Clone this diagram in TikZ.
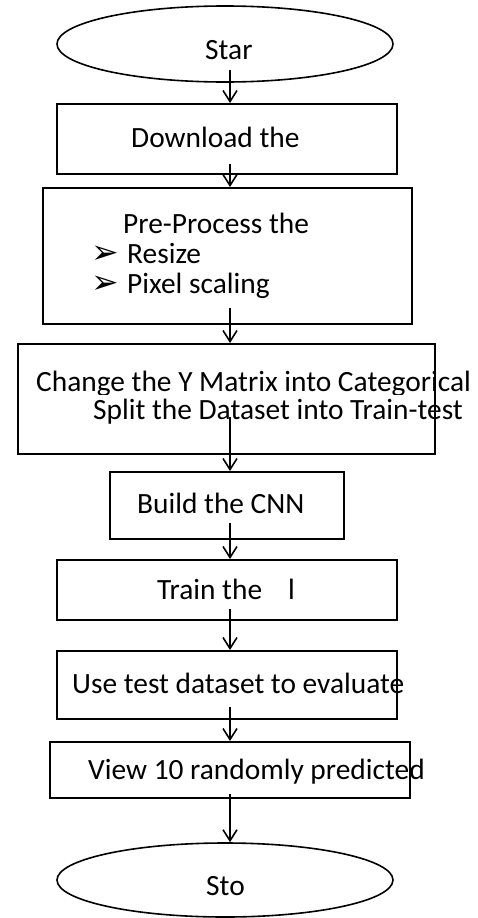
\documentclass[tikz,border=0pt]{standalone}
\usepackage{fontspec}
\setmainfont{Carlito}
\newfontfamily\symfont{DejaVu Sans}
\usetikzlibrary{arrows.meta,shapes.geometric}
\begin{document}
\begin{tikzpicture}[x=1pt,y=-1pt,
  box/.style={draw, line width=1.6pt, rectangle, inner sep=0pt, anchor=north west},
  term/.style={draw, line width=1.6pt, ellipse, inner sep=0pt, minimum width=336pt},
  lbl/.style={anchor=base west, inner sep=0pt, font=\fontsize{29.4}{31}\selectfont},
  bul/.style={anchor=base west, inner sep=0pt, font=\symfont\fontsize{33}{35}\selectfont},
  flow/.style={line width=1.6pt, -{Straight Barb[length=11pt,width=14pt]}}]
\useasboundingbox (0,0) rectangle (477,918);
\fill[white] (0,0) rectangle (477,918);
% shapes
\node[term, minimum height=76pt] (e1) at (225,44) {};
\node[box, minimum width=340pt, minimum height=70pt] (b1) at (56,103) {};
\node[box, minimum width=369pt, minimum height=136pt] (b2) at (42,187) {};
\node[box, minimum width=417pt, minimum height=110pt] (b3) at (17,343) {};
\node[box, minimum width=234pt, minimum height=67pt] (b4) at (109,471) {};
\node[box, minimum width=340pt, minimum height=60pt] (b5) at (56,559) {};
\node[box, minimum width=340pt, minimum height=68pt] (b6) at (56,650) {};
\node[box, minimum width=360pt, minimum height=56pt] (b7) at (49,741) {};
\node[term, minimum height=74pt] (e2) at (225,880) {};
% texts
\node[lbl] (t1) at (205,59) {Star};
\node[lbl] (t2) at (131,147) {Download the};
\node[lbl] (t3) at (123,233) {Pre-Process the};
\node[bul] (u1) at (91,263) {➢};
\node[lbl] (t4) at (127,263) {Resize};
\node[bul] (u2) at (91,293) {➢};
\begin{scope}
\clip (0,0) rectangle (477,297);
\node[lbl] (t5) at (127,293) {Pixel scaling};
\end{scope}
\begin{scope}
\clip (0,0) rectangle (477,394);
\node[lbl] (t6) at (36,391) {Change the Y Matrix into Categorical};
\end{scope}
\node[lbl] (t7) at (93,419) {Split the Dataset into Train-test};
\node[lbl] (t8) at (137,513) {Build the CNN};
\node[lbl] (t9) at (157,599) {Train the\hspace{26pt}l};
\node[lbl] (t10) at (72,693) {Use test dataset to evaluate};
\node[lbl] (t11) at (88,779) {View 10 randomly predicted};
\node[lbl] (t12) at (206,895) {Sto};
% connectors
\coordinate (s1) at (230,70);
\coordinate (s2) at (230,164);
\coordinate (s3) at (230,308);
\coordinate (s4) at (230,417);
\coordinate (s5) at (230,523);
\coordinate (s6) at (230,609);
\coordinate (s7) at (230,707);
\coordinate (s8) at (230,794);
\draw[flow] (s1) -- (s1 |- b1.north);
\draw[flow] (s2) -- (s2 |- b2.north);
\draw[flow] (s3) -- (s3 |- b3.north);
\draw[flow] (s4) -- (s4 |- b4.north);
\draw[flow] (s5) -- (s5 |- b5.north);
\draw[flow] (s6) -- (s6 |- b6.north);
\draw[flow] (s7) -- (s7 |- b7.north);
\draw[flow] (s8) -- (s8 |- e2.north);
\end{tikzpicture}
\end{document}
